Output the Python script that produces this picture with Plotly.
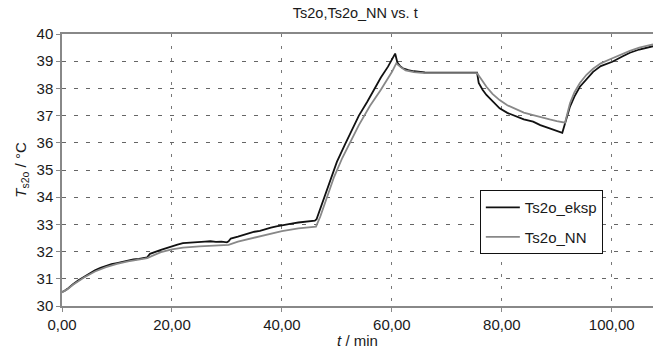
import plotly.graph_objects as go

# Experimental series (Ts2o_eksp)
t_eksp = [0, 0.5, 1, 1.5, 2, 3, 4, 5, 6, 7, 8, 9, 10, 11, 12, 13, 14, 15, 15.5, 16, 17, 18, 19, 20,
          21, 22, 23, 24, 25, 26, 27, 28, 29, 30, 30.3, 30.7, 32, 33, 34, 35, 36, 37, 38, 39, 40,
          41, 42, 43, 44, 45, 46, 46.3, 47, 48, 49.3, 50, 51.5, 53, 54, 55.5, 56.6, 58, 59.3, 60,
          60.6, 61, 61.5, 62, 63, 64, 65, 66, 68, 70, 72, 74, 75.5, 75.8, 76.5, 77.2, 78, 79.6,
          81, 82.7, 84, 85.7, 87, 88.7, 90, 91.0, 92.4, 93.2, 94.2, 95.4, 96.6, 98, 100.1, 102,
          103.3, 105, 107, 107.5]
T_eksp = [30.52, 30.56, 30.63, 30.72, 30.80, 30.95, 31.08, 31.20, 31.31, 31.40, 31.47, 31.54, 31.58,
          31.63, 31.66, 31.71, 31.73, 31.78, 31.79, 31.92, 31.98, 32.06, 32.13, 32.20, 32.26, 32.31,
          32.33, 32.35, 32.36, 32.37, 32.38, 32.36, 32.37, 32.34, 32.38, 32.48, 32.55, 32.61, 32.67,
          32.73, 32.76, 32.83, 32.88, 32.93, 32.97, 33.02, 33.04, 33.07, 33.09, 33.12, 33.14, 33.19,
          33.60, 34.20, 34.95, 35.30, 35.95, 36.60, 37.00, 37.50, 37.90, 38.40, 38.80, 39.05, 39.28,
          38.95, 38.82, 38.74, 38.67, 38.63, 38.60, 38.59, 38.58, 38.58, 38.59, 38.58, 38.58, 38.20,
          37.95, 37.76, 37.60, 37.27, 37.10, 36.96, 36.86, 36.78, 36.65, 36.53, 36.45, 36.37, 37.33,
          37.70, 38.06, 38.35, 38.61, 38.82, 38.98, 39.18, 39.31, 39.43, 39.53, 39.55]

# Neural-network series (Ts2o_NN)
t_nn = [0, 1, 2, 4, 6, 8, 10, 12, 15, 15.5, 16.5, 18, 20, 22, 25, 28, 30.3, 32, 34.8, 37, 40, 43,
        46.2, 47, 48, 49.5, 51, 52, 54, 56, 58, 60, 60.8, 61.5, 62.5, 64, 66, 70, 75.5, 76.3, 77.2,
        78.3, 79.6, 81, 82.7, 84, 85.7, 87, 88.7, 90, 91.5, 92.4, 93.2, 94.2, 95.4, 96.6, 98, 100,
        102, 103.3, 105, 107.5]
T_nn = [30.50, 30.62, 30.78, 31.05, 31.27, 31.43, 31.55, 31.64, 31.74, 31.76, 31.85, 31.98, 32.08,
        32.15, 32.19, 32.22, 32.25, 32.37, 32.50, 32.62, 32.75, 32.85, 32.92, 33.30, 33.90, 34.75,
        35.45, 35.85, 36.65, 37.35, 37.95, 38.60, 38.92, 38.80, 38.66, 38.60, 38.56, 38.56, 38.56,
        38.33, 38.06, 37.80, 37.57, 37.38, 37.21, 37.11, 37.02, 36.94, 36.86, 36.80, 36.74, 37.45,
        37.85, 38.20, 38.50, 38.72, 38.92, 39.10, 39.28, 39.38, 39.50, 39.62]

x_ticks = [0, 20, 40, 60, 80, 100]
x_labels = ["0,00", "20,00", "40,00", "60,00", "80,00", "100,00"]
y_ticks = [30, 31, 32, 33, 34, 35, 36, 37, 38, 39, 40]

FONT = "Liberation Sans, Arial, sans-serif"

fig = go.Figure()
fig.add_trace(go.Scatter(x=t_eksp, y=T_eksp, mode="lines", name="Ts2o_eksp",
                         line=dict(color="#111111", width=1.8), legendgroup="a"))
fig.add_trace(go.Scatter(x=t_nn, y=T_nn, mode="lines", name="Ts2o_NN",
                         line=dict(color="#888888", width=1.8), legendgroup="b"))

fig.update_layout(
    width=653, height=349,
    margin=dict(l=62, r=0, t=34, b=43),
    paper_bgcolor="white", plot_bgcolor="white",
    font=dict(family=FONT, size=15, color="#1a1a1a"),
    title=dict(text="Ts2o,Ts2o_NN vs. t", x=0.544, xanchor="center", y=0.963, yanchor="middle",
               font=dict(size=14.5, family=FONT, color="#1a1a1a")),
    showlegend=True,
    legend=dict(x=0.707, y=0.426, xanchor="left", yanchor="top",
                bgcolor="white", bordercolor="#111111", borderwidth=1,
                font=dict(size=15, family=FONT), tracegroupgap=7, itemwidth=34),
    xaxis=dict(range=[0, 107.5], tickvals=x_ticks, ticktext=x_labels,
               showgrid=True, gridcolor="#777777", gridwidth=1, griddash="3px,9px",
               zeroline=False, showline=True, linecolor="#888888", linewidth=1.5, mirror=True,
               ticks="outside", ticklen=4, tickcolor="#888888",
               title=dict(text="<i>t</i> / min", standoff=4, font=dict(size=15))),
    yaxis=dict(range=[30, 40], tickvals=y_ticks,
               showgrid=True, gridcolor="#666666", gridwidth=1, griddash="4px,8px",
               zeroline=False, showline=True, linecolor="#888888", linewidth=1.5,
               ticks="outside", ticklen=4, tickcolor="#888888",
               title=dict(text="<i>T</i><sub>s2o</sub> / °C", standoff=6, font=dict(size=15))),
)

fig.write_html("out.html", config={"displayModeBar": False},
               post_script="document.body.style.margin='0';document.body.style.overflow='hidden';")
